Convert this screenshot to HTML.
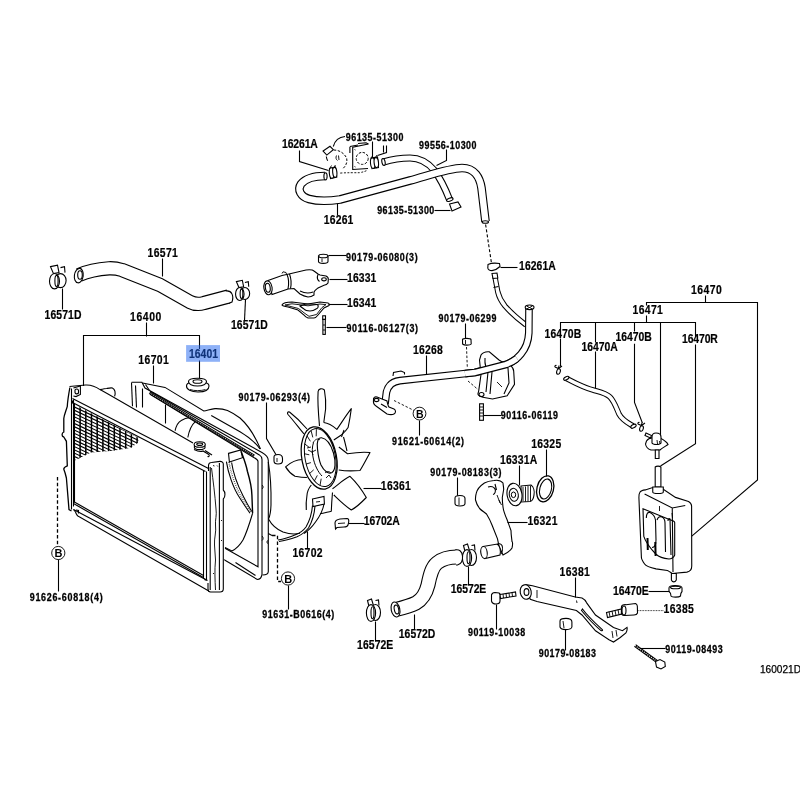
<!DOCTYPE html>
<html><head><meta charset="utf-8"><style>
html,body{margin:0;padding:0;background:#fff;width:800px;height:800px;overflow:hidden}
svg{display:block;will-change:transform}
text{font-family:"Liberation Sans",sans-serif;font-weight:bold;fill:#000}
text.b{font-size:12.4px;stroke:#000;stroke-width:0.2px}
text.s{font-size:10.6px;stroke:#000;stroke-width:0.3px}
text.r{font-weight:normal;font-size:10px;fill:#000;stroke:#000;stroke-width:0.25px}
.l{fill:none;stroke:#000;stroke-width:1.1}
.t{fill:none;stroke:#000;stroke-width:0.9}
.w{fill:#fff;stroke:#000;stroke-width:1.1}
.d{fill:none;stroke:#000;stroke-width:1.1;stroke-dasharray:3 2}
</style></head><body>
<svg width="800" height="800" viewBox="0 0 800 800">
<text transform="scale(0.84,1)" x="224.88" y="357.9" textLength="34.76" lengthAdjust="spacing" class="b">16401</text>
<text x="760" y="672.75" textLength="41" lengthAdjust="spacingAndGlyphs" class="r">160021D</text>
<text transform="scale(0.84,1)" x="335.83" y="148" textLength="42.50" lengthAdjust="spacing" class="b">16261A</text>
<text transform="scale(0.84,1)" x="385.36" y="223.9" textLength="35.36" lengthAdjust="spacing" class="b">16261</text>
<text transform="scale(0.84,1)" x="175.71" y="257" textLength="35.95" lengthAdjust="spacing" class="b">16571</text>
<text transform="scale(0.84,1)" x="53.10" y="318.9" textLength="43.81" lengthAdjust="spacing" class="b">16571D</text>
<text transform="scale(0.84,1)" x="274.88" y="329.4" textLength="43.93" lengthAdjust="spacing" class="b">16571D</text>
<text transform="scale(0.84,1)" x="154.88" y="321.5" textLength="37.14" lengthAdjust="spacing" class="b">16400</text>
<text transform="scale(0.84,1)" x="413.21" y="282.5" textLength="34.76" lengthAdjust="spacing" class="b">16331</text>
<text transform="scale(0.84,1)" x="413.21" y="307" textLength="34.76" lengthAdjust="spacing" class="b">16341</text>
<text transform="scale(0.84,1)" x="617.98" y="270" textLength="43.69" lengthAdjust="spacing" class="b">16261A</text>
<text transform="scale(0.84,1)" x="822.62" y="294" textLength="36.67" lengthAdjust="spacing" class="b">16470</text>
<text transform="scale(0.84,1)" x="753.10" y="314" textLength="35.95" lengthAdjust="spacing" class="b">16471</text>
<text transform="scale(0.84,1)" x="648.33" y="338.4" textLength="43.57" lengthAdjust="spacing" class="b">16470B</text>
<text transform="scale(0.84,1)" x="692.38" y="351" textLength="43.10" lengthAdjust="spacing" class="b">16470A</text>
<text transform="scale(0.84,1)" x="732.62" y="341" textLength="43.33" lengthAdjust="spacing" class="b">16470B</text>
<text transform="scale(0.84,1)" x="812.02" y="343" textLength="42.50" lengthAdjust="spacing" class="b">16470R</text>
<text transform="scale(0.84,1)" x="491.67" y="354" textLength="35.48" lengthAdjust="spacing" class="b">16268</text>
<text transform="scale(0.84,1)" x="164.64" y="364.2" textLength="36.31" lengthAdjust="spacing" class="b">16701</text>
<text transform="scale(0.84,1)" x="632.38" y="448.4" textLength="35.71" lengthAdjust="spacing" class="b">16325</text>
<text transform="scale(0.84,1)" x="595.24" y="464" textLength="44.29" lengthAdjust="spacing" class="b">16331A</text>
<text transform="scale(0.84,1)" x="453.39" y="490.5" textLength="35.65" lengthAdjust="spacing" class="b">16361</text>
<text transform="scale(0.84,1)" x="433.15" y="525" textLength="42.80" lengthAdjust="spacing" class="b">16702A</text>
<text transform="scale(0.84,1)" x="627.86" y="525" textLength="35.83" lengthAdjust="spacing" class="b">16321</text>
<text transform="scale(0.84,1)" x="348.10" y="556.75" textLength="35.95" lengthAdjust="spacing" class="b">16702</text>
<text transform="scale(0.84,1)" x="536.73" y="593" textLength="42.20" lengthAdjust="spacing" class="b">16572E</text>
<text transform="scale(0.84,1)" x="666.19" y="576" textLength="35.95" lengthAdjust="spacing" class="b">16381</text>
<text transform="scale(0.84,1)" x="729.76" y="595.5" textLength="42.62" lengthAdjust="spacing" class="b">16470E</text>
<text transform="scale(0.84,1)" x="790.00" y="613.5" textLength="35.95" lengthAdjust="spacing" class="b">16385</text>
<text transform="scale(0.84,1)" x="474.82" y="638" textLength="43.39" lengthAdjust="spacing" class="b">16572D</text>
<text transform="scale(0.84,1)" x="425.12" y="649.25" textLength="43.10" lengthAdjust="spacing" class="b">16572E</text>
<text transform="scale(0.84,1)" x="411.55" y="141" textLength="68.69" lengthAdjust="spacing" class="s">96135-51300</text>
<text transform="scale(0.84,1)" x="498.93" y="149" textLength="68.33" lengthAdjust="spacing" class="s">99556-10300</text>
<text transform="scale(0.84,1)" x="449.05" y="214" textLength="67.98" lengthAdjust="spacing" class="s">96135-51300</text>
<text transform="scale(0.84,1)" x="411.85" y="261" textLength="85.30" lengthAdjust="spacing" class="s">90179-06080(3)</text>
<text transform="scale(0.84,1)" x="412.44" y="332" textLength="85.30" lengthAdjust="spacing" class="s">90116-06127(3)</text>
<text transform="scale(0.84,1)" x="521.96" y="322" textLength="68.93" lengthAdjust="spacing" class="s">90179-06299</text>
<text transform="scale(0.84,1)" x="283.87" y="401" textLength="85.30" lengthAdjust="spacing" class="s">90179-06293(4)</text>
<text transform="scale(0.84,1)" x="596.07" y="419" textLength="68.21" lengthAdjust="spacing" class="s">90116-06119</text>
<text transform="scale(0.84,1)" x="466.79" y="445" textLength="85.60" lengthAdjust="spacing" class="s">91621-60614(2)</text>
<text transform="scale(0.84,1)" x="512.14" y="476" textLength="85.00" lengthAdjust="spacing" class="s">90179-08183(3)</text>
<text transform="scale(0.84,1)" x="35.36" y="601" textLength="86.79" lengthAdjust="spacing" class="s">91626-60818(4)</text>
<text transform="scale(0.84,1)" x="312.14" y="618" textLength="85.89" lengthAdjust="spacing" class="s">91631-B0616(4)</text>
<text transform="scale(0.84,1)" x="557.08" y="636" textLength="68.04" lengthAdjust="spacing" class="s">90119-10038</text>
<text transform="scale(0.84,1)" x="641.31" y="657" textLength="68.21" lengthAdjust="spacing" class="s">90179-08183</text>
<text transform="scale(0.84,1)" x="792.02" y="653" textLength="68.21" lengthAdjust="spacing" class="s">90119-08493</text>
<path d="M383.5,162 C390,160 400,158 410,158 C420,158 428,163 434,170 C440,178 445,188 449.5,199.5" fill="none" stroke="#000" stroke-width="7.2" stroke-linejoin="round" /><path d="M383.5,162 C390,160 400,158 410,158 C420,158 428,163 434,170 C440,178 445,188 449.5,199.5" fill="none" stroke="#fff" stroke-width="5.0" stroke-linejoin="round" />
<ellipse class="w" cx="383.5" cy="162" rx="1.6" ry="3.5" transform="rotate(-12 383.5 162)"/>
<ellipse class="w" cx="449.8" cy="199.6" rx="3.4" ry="1.5" transform="rotate(-20 449.8 199.6)"/>
<path d="M325,176 C316,176 306,178 301,184 C297,190 301,197 309,199 C318,201.5 330,201 340,199.5 L410,180.5 C430,175 450,168 462,168 C475,168 480,178 481.5,188 L485.5,221.5" fill="none" stroke="#000" stroke-width="8.6" stroke-linejoin="round" /><path d="M325,176 C316,176 306,178 301,184 C297,190 301,197 309,199 C318,201.5 330,201 340,199.5 L410,180.5 C430,175 450,168 462,168 C475,168 480,178 481.5,188 L485.5,221.5" fill="none" stroke="#fff" stroke-width="6.3999999999999995" stroke-linejoin="round" />
<ellipse class="w" cx="325.5" cy="176.3" rx="1.6" ry="3.6"/>
<ellipse class="w" cx="485.3" cy="222" rx="3.2" ry="1.3"/>
<path class="l" d="M446.5,149.5 L446.5,160.5 L436.5,165.5"/>
<path class="l" d="M337.5,215.5 L337.5,203.5"/>
<path class="l" d="M299.5,150.5 L299.5,161.5 L328.5,170.5"/>
<path class="w" d="M329.5,168.5 L335.5,167 L336.8,177 L330.5,178.5 Z"/><ellipse class="w" cx="331.6" cy="173" rx="2.3" ry="5.3" transform="rotate(-6 331.6 173)"/><ellipse class="w" cx="334.8" cy="172.4" rx="2.1" ry="5" transform="rotate(-6 334.8 172.4)"/><path class="t" d="M330,168 L331.5,165.5 M334,167 L335.5,165"/>
<path class="w" d="M371,158 L377.5,157 L378.5,167.5 L372,168.5 Z"/><ellipse class="w" cx="372.8" cy="163.2" rx="2.3" ry="5.2" transform="rotate(-6 372.8 163.2)"/><ellipse class="w" cx="376.3" cy="162.6" rx="2.2" ry="5" transform="rotate(-6 376.3 162.6)"/><path class="t" d="M371.5,158 L372.5,155.5 M375.5,157.5 L377,155"/>
<path class="l" d="M372.5,141.5 L372.5,157.5"/>
<path class="l" d="M368.4,144 L352.7,147.25 L352.7,169.5 L368,168.5"/>
<path class="l" d="M349.9,146.8 L349.9,153 M350,146.5 L358,145 M358,143.5 L366,142.8 L368.4,144"/>
<circle cx="362.2" cy="158.4" r="6" fill="none" stroke="#000" stroke-width="1" stroke-dasharray="2.5 1.5"/>
<path class="t" d="M354.5,149.5 L355.5,150 M354.5,166.5 L355.5,167"/>
<path fill="none" stroke="#000" stroke-width="1" stroke-dasharray="2.5 1.6" d="M333.7,150 C340,150 345,154 346.7,158.4 C347.5,162 346,166 343,168.5"/>
<path class="t" d="M336.5,155.5 C335.5,157.5 336,159.5 337.5,160.5 M338.5,155.5 L339,160"/>
<path class="l" d="M326.3,156.5 C326.5,158 327,159.5 327.7,160.7"/>
<path class="w" d="M323.1,151 L330,146.3 L333.3,149.6 L326.8,155.1 Z"/>
<path class="l" d="M345,136.5 C339,137 335,140 333.3,146.5"/>
<path class="t" stroke-dasharray="2 1.5" d="M340.2,173.1 C348,172.5 354,172.8 359.6,172.7 C363,172 365,171.5 367,170.4"/>
<path class="l" d="M383.5,145.5 L383.5,152.5"/>
<path class="l" d="M386.5,145.5 L386.5,152.5 L377.5,155.5"/>
<path class="w" d="M449.5,204 L458,202 L461,207 L452,211 Z"/>
<path class="l" d="M434.5,210.5 L450.5,210.5"/>
<path class="d" d="M485.6,224.5 L491.3,262"/>
<path d="M79,275 C88,271 99,269 109,268.3 C114,268.1 118,268.8 122,270 L160,285 L190,302 C194,304 199,304.5 204,303 L228.5,296.5" fill="none" stroke="#000" stroke-width="14.3" stroke-linejoin="round" /><path d="M79,275 C88,271 99,269 109,268.3 C114,268.1 118,268.8 122,270 L160,285 L190,302 C194,304 199,304.5 204,303 L228.5,296.5" fill="none" stroke="#fff" stroke-width="12.100000000000001" stroke-linejoin="round" />
<ellipse class="w" cx="78.8" cy="275.6" rx="4.4" ry="7.3" transform="rotate(8 78.8 275.6)"/>
<ellipse class="l" cx="80" cy="275" rx="2.3" ry="4.2"/>
<path class="w" d="M225.6,291 C232,290 234,296 232,302 L228,303.5"/>
<path class="l" d="M162.5,258.5 L162.5,276.5"/>
<path class="w" d="M50.5,266.6 L57.5,265.1 L59.0,272.6 L53.5,273.6 Z"/><path class="l" d="M60.5,267.6 L64.5,266.6 L65.0,272.6"/><ellipse class="w" cx="60.5" cy="280.6" rx="5.6" ry="7.0"/><ellipse class="w" cx="54.5" cy="281.20000000000005" rx="5.0" ry="7.7"/><ellipse class="l" cx="56.5" cy="280.90000000000003" rx="1.6" ry="5.5"/>
<path class="l" d="M62.5,288.5 L62.5,309.5"/>
<path class="w" d="M236.4,281.6 L242.35,280.325 L243.625,286.7 L238.95,287.55 Z"/><path class="l" d="M244.9,282.45 L248.3,281.6 L248.725,286.7"/><ellipse class="w" cx="244.9" cy="293.5" rx="4.76" ry="5.95"/><ellipse class="w" cx="239.8" cy="294.01" rx="4.25" ry="6.545"/><ellipse class="l" cx="241.5" cy="293.755" rx="1.36" ry="4.675"/>
<path class="l" d="M245.5,299.5 L244.5,320.5"/>
<path class="w" d="M318.5,256 L318.5,261.5 C318.5,264 328,264 328,261.5 L328,256 Z"/><ellipse class="w" cx="323.3" cy="256" rx="4.6" ry="1.8"/><path class="t" d="M322,258.5 L322,262"/>
<path class="l" d="M328.5,255.5 L346.5,255.5"/>
<path class="w" d="M268,280.5 L282,275.5 L289,274 L306,270 C310,269.5 313,270 314,271 L318,274 L320,275 L326,276 C328,277 328.5,278 328.3,279.5 L328,283 C327,284.5 325.5,285 324,285.2 L318,288 C316,289.5 314.5,290.5 314,292 L314,295 C312,296.5 310,297 308,297 C305,296.5 302.5,295.5 300,294 L294,288.5 L288,289 L272,294.5 Z"/>
<path class="l" d="M287,274.5 C288.5,278 289,284 288,289 M289.5,274 C291,278 291.5,284 290.5,288.7"/>
<path class="l" d="M318,274.5 C317,277 317.5,280 319.5,281.5 M300,291 C304,293 309,293.5 313,292"/>
<ellipse class="l" cx="324" cy="279.3" rx="2.3" ry="1.6"/>
<path class="t" d="M282,273.5 L283,271.8 L286,272.5 L286.5,274"/>
<ellipse class="w" cx="268" cy="287.8" rx="4.1" ry="7" transform="rotate(-8 268 287.8)"/>
<ellipse class="l" cx="267.8" cy="287.8" rx="2.4" ry="4.5" transform="rotate(-8 267.8 287.8)"/>
<path class="l" d="M329.5,279.5 L347.5,279.5"/>
<path class="w" d="M282,305 C283,303 287,302 292,302 L308,304 L320,302 L328,303 C329.5,303.5 329.5,305 329,305.5 L324,308 L318,315 C316.5,317 315.5,318 314,318 L308,318 C306,317.5 305,316.5 304,315 L298,310 L288,307 C285,306.5 282.5,306 282,305 Z"/>
<path class="t" d="M285,305 L292,303.8 L308,305.8 L320,304 L326,304.6 L322,307.5 L316.5,314.5 L309,316.3 L305,313.5 L298.5,308.5 Z"/>
<path class="l" d="M300,306 C303,305 305,304 308,304 C312,304 316,304 318,305 C318.5,307 317.5,308.5 316,309 C314,310.5 312,311 310,311 C307,311 305,310.3 304,309 C302.5,308 301,307 300,306 Z"/>
<path class="l" d="M328.5,304.5 L347.5,304.5"/>
<rect class="w" x="322.7" y="315.8" width="2.8" height="3.6"/><rect class="w" x="322.9" y="319.4" width="2.4" height="15"/>
<path class="t" d="M323,325 L325.2,325 M323,330 L325.2,330"/>
<path class="l" d="M326.5,327.5 L346.5,327.5"/>
<path class="l" d="M142.5,383 L165,387.4 L203.75,411 C207,410.5 211,409 215,408.6 C220,408.5 224,409 227.5,410.5 C232,412.5 236,415 240,418 C249,426 255,436 260.5,449"/>
<path class="l" d="M211.25,415.5 L240,431.75 C249,437 255,442 260,449"/>
<path class="l" d="M268.3,462 C270.5,475 271.3,490 271,505 C270.8,511 270,516 268.5,519 C272,525.5 277,529.5 283,532 C289,534 295,534.5 300,533.2"/>
<path class="l" d="M131.6,382.2 L141.9,382.2 L145,388 L262,452.5 C265.5,454.5 268.3,456.5 268.3,460.5 L268.3,571.6 C268.3,573.5 266,575 262.5,575"/>
<path class="l" d="M131.5,382.5 L132.5,406.5"/>
<path class="l" d="M135.5,385.5 L136.5,407.5"/>
<path class="l" d="M150,391.2 L259.4,454.9 C261,456 262,457.5 262,459.5 L262,574.4 C261.5,577.5 259.5,579.5 257.3,579.5 L223.75,559.5"/>
<path class="l" d="M150,394.3 L253.75,457.5 C256,458.5 258,459.5 258,461.5 L258,566.8 L225,548.25"/>
<path class="l" d="M142.5,388.5 L142.5,407.5"/>
<path class="l" d="M235.5,562.5 L255.5,575.5"/>
<path class="t" d="M262,485 C263.5,486 263.5,488 262,489 M262,536 C263.5,537 263.5,539.5 262,540.5 M268.3,540 C266.5,541 266.5,543 268.3,544"/>
<path d="M149.4,392.8 L254.25,455.8" stroke="#000" stroke-width="2.4" fill="none"/>
<path d="M149.4,392.8 L254.25,455.8" stroke="#fff" stroke-width="0.7" fill="none" stroke-dasharray="1.2 0.9"/>
<path class="l" d="M145.5,384.5 L149.5,390.5"/>
<path class="l" d="M165.5,404.5 L165.5,423.5"/>
<path class="l" d="M174.7,431.9 C176,426 178.5,422 181.25,420.6 C184,419 186.5,418 189,417.8"/>
<path class="l" d="M187.8,437.5 C189,431 191.5,425 195.3,421.6"/>
<path class="w" d="M228.5,453.4 L240.75,449.9 L242.5,457.75 L229.4,462 Z"/>
<path class="l" d="M226.4,461.6 C228,472 233,488 239.5,497.5 C243,503 247,509 250,513.25"/>
<path class="l" d="M231.6,462.5 C233,472 238,486 243,495.75 C246,502 249,507 251.75,511.5"/>
<path d="M229,462 C230.5,472 235.5,487 241.2,496.6 C244.5,502 248,508 250.8,512.4" stroke="#000" stroke-width="1.3" stroke-dasharray="0.6 1.4" fill="none"/>
<path d="M241.2,451.6 C243.5,458 246,464 247.4,471.25 C250,480 251.75,488 251.9,495 L252.6,513.25" stroke="#000" stroke-width="1.4" fill="none"/>
<path class="l" d="M243,540 C240,545 236,549 231.9,551 L225,547.5"/>
<path class="l" d="M252.6,513.25 C250,522 247,532 243,540"/>
<path class="d" style="stroke-width:1.3;stroke-dasharray:3.5 2.3" d="M272,535.5 L277.5,535.5 L277.5,581.5 L281,581.5"/>
<path class="l" d="M268.3,533.5 L272,535.5"/>
<path fill="#fff" d="M63,390 L69.5,386.5 L85,384.8 L100,389 L112,387.5 L115.5,392 L115,396.5 L193,441 L206,449 L212,455 L223.5,461.5 L224.5,593 L206,593 L75,517 L68,512 L63,470 Z"/>
<path class="l" style="stroke-width:1.3" d="M69.9,387.5 C68.5,395 67.5,402 67.3,406.3 C66,411 64,415 63.8,418.5 L63.8,432 C61.5,433 61.5,436.5 63.8,437 L66.4,441.3 L67.3,465.8 C65.5,466.5 63.5,467.5 63.8,469.3 C64.5,471 65.5,474 66.4,478 L69,509.6 L71.5,511"/>
<path class="l" d="M71.5,388.5 L71.5,509.5"/>
<path class="l" d="M73.5,399.5 L73.5,506.5"/>
<path class="l" d="M69.5,386.5 L85.4,385 C90,384.7 95,386 100,389.6 M100,389.6 C103,389 105,388.6 106.7,388.5 C109,388 111,387.5 112.4,388 C115,389.5 115.6,393 114.6,396.4"/>
<path class="l" d="M73.4,388 L80.4,386 L80.4,394.5 L76,396.6 L73.4,396 M75,390 C76,388.5 78,388.5 78.5,390.5 L78.5,393 C77,394.5 75.5,394 75,392.5 Z"/>
<path class="l" d="M100,389.6 L108,394 L193,443"/>
<path class="l" d="M205,450.5 L212,455"/>
<path class="l" d="M72.5,398.5 L208.5,468.5"/>
<path class="l" d="M72.5,402.5 L205.5,471.5"/>
<path class="l" d="M72.5,400.5 L72.5,403.5"/>
<ellipse class="w" cx="199.7" cy="447" rx="5.4" ry="2.6"/><ellipse class="w" cx="199.7" cy="444.5" rx="5.6" ry="2.8"/><ellipse class="l" cx="199.7" cy="444.2" rx="3" ry="1.2"/>
<path class="l" d="M194,449.5 C197,451 201,452 203,451 L208,454 C210,455 209.5,457 207.5,456.5"/>
<path class="l" d="M74.5,403.5 L74.5,502.5"/>
<path class="l" d="M73.5,501.5 L203.5,575.5"/>
<path class="l" d="M73.5,503.5 L203.5,577.5"/>
<path class="l" d="M73.5,509.5 L207.5,580.5"/>
<path class="l" d="M73.5,509.5 L75.5,512 C76.5,515 78,516.5 79.25,516.75 L208.8,591"/>
<path class="l" d="M76,510 L78.5,510.5 L78.5,513.5"/>
<path class="l" d="M206.5,471.5 L206.5,580.5"/>
<path class="l" d="M208.5,471 L208.5,466 C208.5,463.5 210,462.5 211.5,462.5 L220,461.4 C222,461.3 223.3,462.5 223.3,464 L223.3,490 C225.5,492 225.5,497 223.3,499 L223.3,589 C223.3,591 222,592 220,592 L210.5,592 C209,592 208,590.5 208,589 L208,583"/>
<path class="l" d="M210.2,467 L210.2,590"/>
<path class="l" d="M219.4,463 L219.4,590"/>
<path class="t" d="M211.5,468 C213,480 215,495 216,509 C217,515 215,520 215.5,525 C216.5,532 214,538 214.5,545 L215.5,560 C214.5,570 215,580 215.5,590"/>
<path class="t" d="M213,465.5 L214.5,466 M217,465.5 L217.8,466.5 M221,520 L222,521 M221,540 L222,541 M213,574 L214,573"/>
<path class="l" d="M203.5,470.5 L203.5,578.5"/>
<path class="l" d="M204.5,578.5 L205.5,580.5"/>
<clipPath id="hc"><path d="M74.4,404.5 L138.3,437.8 L138.3,442.5 L131.2,447.7 L113.3,450.8 L91,452.5 L74.4,460.8 Z"/></clipPath>
<g clip-path="url(#hc)"><path d="M80.1,395 L80.1,470 M85.8,395 L85.8,470 M91.5,395 L91.5,470 M97.2,395 L97.2,470 M102.9,395 L102.9,470 M108.6,395 L108.6,470 M114.3,395 L114.3,470 M120.0,395 L120.0,470 M125.7,395 L125.7,470 M131.4,395 L131.4,470 M137.1,395 L137.1,470" stroke="#000" stroke-width="1.5" fill="none"/><path d="M74,403.5 L140,434.5 M74,406.8 L140,437.8 M74,410.1 L140,441.1 M74,413.4 L140,444.4 M74,416.7 L140,447.7 M74,420.0 L140,451.0 M74,423.3 L140,454.3 M74,426.6 L140,457.6 M74,429.9 L140,460.9 M74,433.2 L140,464.2 M74,436.5 L140,467.5 M74,439.8 L140,470.8 M74,443.1 L140,474.1 M74,446.4 L140,477.4 M74,449.7 L140,480.7 M74,453.0 L140,484.0 M74,456.3 L140,487.3 M74,459.6 L140,490.6 M74,462.9 L140,493.9 M74,466.2 L140,497.2" stroke="#000" stroke-width="1.05" fill="none"/></g>
<path d="M319.5,426 C318.5,415 317.5,400 318.1,391.5 C318.5,388.5 322,388 324.4,390 C325.5,396 326,402 325.6,409 L323.8,422.5" fill="#fff" stroke="#000" stroke-width="1.1" stroke-linejoin="round"/>
<path d="M323.8,422.5 C329,423 333,426 336.9,429.4 C342,422 347,414 351.3,408.7 C350.5,415 349.5,421 348.1,427.5 C346,431 343,433.5 341.3,435 L333.8,440" fill="#fff" stroke="#000" stroke-width="1.1" stroke-linejoin="round"/>
<path d="M304,434 C299,428 293,420 288,414.5 C287,413 287.5,411.5 289.5,412 C296,417 302,423 307,429" fill="#fff" stroke="#000" stroke-width="1.1" stroke-linejoin="round"/>
<path d="M338.8,447 C342,449 345,452 347.5,453.8 C355,452.5 363,451.8 370,452.5 C367,458 363.5,465 360,470.5 C353,471 345,471 338.8,470" fill="#fff" stroke="#000" stroke-width="1.1" stroke-linejoin="round"/>
<path d="M302.5,459.5 C297,459.5 291,462 285.6,466.9 C288,471 292,474.5 295,476.3 C299,477 303,477.5 306.9,477.5" fill="#fff" stroke="#000" stroke-width="1.1" stroke-linejoin="round"/>
<path d="M332.5,488.8 C339,484 344,479 350,476.3 C356,482 362,490 366.3,497.5 C362,502 357,507 351.3,510 C345,506 339,500 333.8,495" fill="#fff" stroke="#000" stroke-width="1.1" stroke-linejoin="round"/>
<path d="M311.3,485 C308,489 307,493 306.9,496 C306,501 306,505 306.3,510 M320,513.8 C324,513 328,512 331.3,511.3 C331.5,505 332,498 332.5,492.5" fill="#fff" stroke="#000" stroke-width="1.1" stroke-linejoin="round"/>
<path class="l" d="M344,430 L341.5,437"/>
<path class="l" d="M343.5,437 C345,442 346,447 347,451"/>
<ellipse cx="319.2" cy="458" rx="17.3" ry="31.6" transform="rotate(-11 319.2 458)" fill="#fff" stroke="#000" stroke-width="1.25"/>
<ellipse cx="320.3" cy="457.6" rx="15.2" ry="29.4" transform="rotate(-11 320.3 457.6)" fill="none" stroke="#000" stroke-width="1"/>
<path d="M317.5,449 C316.5,442 318,437.5 321.5,437.8 C326.5,438.5 331,445 333.5,453 C336,462 335.5,470 332,472.5 C328.5,474.5 324,471 321,465 C319,460 318,454 317.5,449 Z" fill="none" stroke="#000" stroke-width="1.15"/>
<path d="M313.5,442.5 C312,447 312,452 313,457 C314.5,465 318,472 322,476" fill="none" stroke="#000" stroke-width="1"/>
<path d="M320.0,485.5 L321.2,478.7 M314.3,481.2 L317.3,475.4 M309.4,473.7 L313.7,469.8 M305.9,464.1 L310.9,462.6 M304.2,453.7 L309.3,454.8 M304.6,443.8 L309.1,447.3 M307.0,435.8 L310.4,441.3 M311.1,430.7 L312.8,437.4 M316.4,429.2 L316.2,436.3" stroke="#000" stroke-width="0.9" fill="none"/>
<path class="t" d="M307,448 L311,447 M308,450 L312,452 L316,450 M312,452 L313,455"/>
<path class="t" d="M325,473 C327,471 329,471 331,473 M326,478 L329,475 L331,478"/>
<path class="t" d="M313,443 C315,439 318,438 320,440"/>
<path class="l" d="M363.5,488.5 L381.5,488.5"/>
<path class="w" d="M312.5,499 L324,496.5 L324.4,504 L313,506.5 Z"/>
<path class="t" d="M316,502 L320,501.5"/>
<path class="l" d="M312.5,505.5 C312,512 310,520 306,527 C303,531 300,533 296,534.5 C290,537 284,539 278,540"/>
<path class="l" d="M315,506 C314.5,513 312.5,521 308.5,528 C305,532.5 301,535 297,536.8 C291,539 285,540.8 279,541.5"/>
<path class="l" d="M324,504 C323,510 320,516 315.5,522 C312,527 308,531 304,533.5"/>
<path class="l" d="M307.5,531.5 L307.5,548.5"/>
<path class="w" d="M335,523 C335,520.5 337,519.5 340,519 L347,518.5 C348.5,518.5 349,520 348.7,522 L348,525 C347.5,526.5 346,527 344,527 L337,527.5 L335.5,529 Z"/>
<path class="t" d="M338,523.5 L345,523"/>
<path class="l" d="M348.5,523.5 L364.5,523.5"/>
<path class="l" d="M266.5,402.5 L266.5,438.5 L276.5,455.5"/>
<path class="w" d="M274,457 C274,455 276,454.5 278,454.5 C281,454.5 282.5,456 282.5,458.5 L282.5,461 C282.5,463 280.5,464 278,464 C275.5,464 274,463 274,461 Z"/><path class="t" d="M277,458 L277,462"/>
<path class="w" d="M488,264.5 C491,263 496,263 499.5,263.5 L500,266.5 C498,268.5 496,270 492,270.6 C489.5,270.6 488,269.5 487.8,268 Z"/>
<path class="l" d="M500.5,267.5 L517.5,267.5"/>
<path d="M494.5,274.5 L497.8,292 C499,297 501,301 505,306 C511,313 518,319 526,325" fill="none" stroke="#000" stroke-width="5.4" stroke-linejoin="round" /><path d="M494.5,274.5 L497.8,292 C499,297 501,301 505,306 C511,313 518,319 526,325" fill="none" stroke="#fff" stroke-width="3.4000000000000004" stroke-linejoin="round" />
<path class="w" d="M492,273.5 L497,273 L497.8,278 L493,278.5 Z"/>
<path class="l" d="M493.5,287.5 L498.5,286.5"/>
<path d="M529,308 L528.8,333 C528.5,340 526,348 521,354 C517,359 512,362.5 506,364.5 L475,372.5 L400,380.6 C392,381.5 388,386 386.5,392 L385,404" fill="none" stroke="#000" stroke-width="7.6" stroke-linejoin="round" /><path d="M529,308 L528.8,333 C528.5,340 526,348 521,354 C517,359 512,362.5 506,364.5 L475,372.5 L400,380.6 C392,381.5 388,386 386.5,392 L385,404" fill="none" stroke="#fff" stroke-width="5.3999999999999995" stroke-linejoin="round" />
<ellipse class="w" cx="529.6" cy="307.3" rx="4.4" ry="2.3"/>
<path class="t" d="M526.5,306 L532.5,309 M532.5,306 L526.5,309"/>
<path class="w" d="M373.5,400 C373,397.5 375,396.5 377,397 L382,399 L387,401 C387.5,404 388,406 389,407 L394,409 C396,410 396,413 394,414 C392,415 389,414.6 387,414 L376,406 C373.5,404.5 373.2,402 373.5,400 Z"/>
<ellipse class="l" cx="376.5" cy="400" rx="2.4" ry="1.6"/>
<path class="l" d="M381,404 L387,407.5"/>
<path class="w" d="M393,376 L393.5,372.5 L401,371 L404.5,372.5 L404.5,374.5"/>
<path class="l" d="M426.5,355.5 L426.5,374.5"/>
<path class="t" stroke-dasharray="2.5 1.8" d="M394,400.5 L414,410.5"/>
<circle cx="419.5" cy="413.6" r="6.4" fill="#fff" stroke="#000" stroke-width="0.9"/>
<text x="416" y="417.6" style="font-size:10.5px;font-weight:bold">B</text>
<path class="l" d="M419.5,420.5 L419.5,435.5"/>
<path class="w" d="M481,355 C483,352 486,351.5 489.3,351.8 L499,360 L501.5,361.5 L510.4,365.6 C512.5,367 513.7,369 513.7,371.3 L514.5,384.3 L507.2,395.7 L492.5,399 L482.8,397.3 C480,396.5 478,395.5 477.9,394 L478.7,390.8 L481,374.5 L479.5,360 Z"/>
<path class="l" d="M485,358 C484.5,362 485.5,366 486,368"/>
<path class="l" d="M500.6,367.5 C503,366 506,366 508,368 L509,383 L504,394"/>
<path class="l" d="M488,372 L486,392 M492,372 L490,394"/>
<path class="t" d="M497,382 L502,387"/>
<ellipse class="l" cx="481.5" cy="394.5" rx="2.5" ry="2"/>
<path d="M517,358.5 C513,361.5 510,363 506,364.5 L475,372.5 L465,373.6" fill="none" stroke="#000" stroke-width="7.6" stroke-linejoin="round" /><path d="M517,358.5 C513,361.5 510,363 506,364.5 L475,372.5 L465,373.6" fill="none" stroke="#fff" stroke-width="5.3999999999999995" stroke-linejoin="round" />
<rect class="w" x="479.6" y="403.8" width="3.8" height="16.5"/>
<path class="t" d="M480,407 L483,407 M480,410 L483,410 M480,413 L483,413 M480,416 L483,416"/>
<path class="l" d="M483.5,415.5 L501.5,415.5"/>
<path class="w" d="M462.5,339.5 C463,338 470.5,338 471,339.5 L471.2,344 C470,345.5 464,345.5 462.6,344 Z"/><path class="t" d="M465.5,340 L465.5,344"/>
<path class="l" d="M465.5,323.5 L465.5,338.5"/>
<path class="t" stroke-dasharray="2.5 1.8" d="M466.5,347 L467.3,367 M468,381 L478,389.5"/>
<path class="l" d="M146.5,322.5 L146.5,336.5"/>
<path class="l" d="M83.5,386 L83.5,335.5 L199.5,335.5 L199.5,349"/>
<path class="l" d="M199.5,360.5 L199.5,378.5"/>
<path class="w" d="M186.5,386 C186.5,383.5 189,382.5 192,382.5 L203,382.5 C206.5,382.5 209,383.5 209,386 C209,389.5 205,392 198,392 C191,392 186.5,389.5 186.5,386 Z"/>
<path class="w" d="M188.5,381.5 C188.5,379.5 192,378.2 197.5,378.2 C203,378.2 206.5,379.5 206.5,381.5 C206.5,384 203,386 197.5,386 C192,386 188.5,384 188.5,381.5 Z"/>
<ellipse class="l" cx="197.5" cy="381.5" rx="4.5" ry="1.8"/>
<path class="t" d="M190,389.5 C194,391 201,391 205.5,389.5"/>
<path class="l" d="M153.5,365.5 L153.5,383.5"/>
<path class="d" style="stroke-width:1.3;stroke-dasharray:3.5 2.3" d="M57.5,477 L57.5,546"/>
<circle cx="58.3" cy="553" r="6.6" fill="#fff" stroke="#000" stroke-width="0.9"/>
<text x="54.6" y="557.2" style="font-size:11px;font-weight:bold">B</text>
<path class="l" d="M58.5,559.5 L58.5,591.5"/>
<circle cx="288" cy="578.5" r="6.6" fill="#fff" stroke="#000" stroke-width="0.9"/>
<text x="284.3" y="582.7" style="font-size:11px;font-weight:bold">B</text>
<path class="l" d="M288.5,585.5 L288.5,609.5"/>
<path class="w" d="M484.4,483 C480,486 477,489 476.2,493.4 C475.3,497 475.5,500 475.5,500 C476.5,504 478,506.5 479.6,508.5 C482,511 485,512.5 486.5,514 C489,518 490.5,521 492,525 L497.5,538.8 L499,546 L503,555 C507,553 510.5,551 512,548 C513,544 512.5,541.5 512,541.5 C511.5,537 511,534 511,530.5 L507,519.5 C505,515 503.5,511 503,507 C502.5,503 502.3,500 502.3,497.5 L503.7,489.3 C503.5,486 503,484 503,483 C501,480.5 497,480 494,480.5 C490,480.8 487,481.5 484.4,483 Z"/>
<path class="l" d="M488,487 C491,486 494,487 495,489 C496,491 495,494 493,494.5 M495,484 L496.5,490"/>
<path class="t" d="M497,495 L500,503 M499,500 L501.5,505"/>
<path class="w" d="M483,546.5 L497.5,544 C500,547 501,551 500,555 L485,558.5 Z"/>
<ellipse class="w" cx="484" cy="552.5" rx="3.2" ry="6" transform="rotate(-8 484 552.5)"/>
<path class="l" d="M497,545 C498.5,543 501,543.5 502,545.5 C503,548 502.5,552 501,554"/>
<path class="l" d="M507.5,522.5 L527.5,522.5"/>
<path class="w" d="M521,486 L531,485 C534,487 534.5,492 534,495 C533.5,499 532,501 530,501.5 L521,502 Z"/>
<path class="t" d="M523,487 L523,501 M525.5,486.5 L525.5,501.5 M528,486 L528,501.5 M530.5,486 L530.5,501"/>
<ellipse cx="514.5" cy="494.5" rx="7.4" ry="11.3" transform="rotate(-10 514.5 494.5)" fill="#fff" stroke="#000" stroke-width="1.1"/>
<ellipse cx="513.8" cy="494.8" rx="4.5" ry="6.5" transform="rotate(-10 513.8 494.8)" fill="none" stroke="#000" stroke-width="1"/>
<ellipse cx="513.5" cy="494.8" rx="2.2" ry="2.8" fill="none" stroke="#000" stroke-width="1"/>
<path class="l" d="M519.5,465.5 L519.5,485.5"/>
<ellipse cx="545.2" cy="488.8" rx="8.3" ry="13.2" transform="rotate(14 545.2 488.8)" fill="none" stroke="#000" stroke-width="1.3"/>
<ellipse cx="545.6" cy="489" rx="5.8" ry="10.2" transform="rotate(14 545.6 489)" fill="none" stroke="#000" stroke-width="1.1"/>
<path class="l" d="M546.5,449.5 L546.5,476.5"/>
<path class="l" d="M457.5,477.5 L457.5,496.5"/>
<path class="w" d="M455,498 C455,496 457,495.5 460,495.5 C463,495.5 465,496.5 465,498.5 L465,503.5 C465,505.5 463,506 460,506 C457,506 455,505.5 455,503.5 Z"/><path class="t" d="M459,497.5 L459,505"/>
<path class="w" d="M463.5,545.5 L467.5,544.0 L469.5,550.5 L465.0,551.5 Z"/><path class="l" d="M471.5,545.5 L474.5,545.0 L475.0,550.5"/><ellipse class="w" cx="471.5" cy="557.5" rx="5.0" ry="8.0"/><ellipse class="w" cx="467.0" cy="558.0" rx="4.6" ry="8.4"/><ellipse class="l" cx="468.5" cy="557.8" rx="1.5" ry="6.0"/>
<path class="l" d="M468.5,566.5 L468.5,585.5"/>
<path class="w" d="M367.5,600.5 L371.5,599.0 L373.5,605.5 L369.0,606.5 Z"/><path class="l" d="M375.5,600.5 L378.5,600.0 L379.0,605.5"/><ellipse class="w" cx="375.5" cy="612.5" rx="5.0" ry="8.0"/><ellipse class="w" cx="371.0" cy="613.0" rx="4.6" ry="8.4"/><ellipse class="l" cx="372.5" cy="612.8" rx="1.5" ry="6.0"/>
<path class="l" d="M375.5,621.5 L375.5,641.5"/>
<path d="M396,609.5 C402,608 410,606 416,603 C423,599 426,593 428,585 C430,575 432,567 437,563 C442,559 450,557 457,557" fill="none" stroke="#000" stroke-width="15" stroke-linejoin="round" /><path d="M396,609.5 C402,608 410,606 416,603 C423,599 426,593 428,585 C430,575 432,567 437,563 C442,559 450,557 457,557" fill="none" stroke="#fff" stroke-width="12.8" stroke-linejoin="round" />
<path class="w" d="M455,550 C459,549 462,551 462.5,556 C463,561 461,564 457.5,565 L456,565"/>
<ellipse class="w" cx="395.5" cy="609.5" rx="4.3" ry="7.6" transform="rotate(-12 395.5 609.5)"/>
<ellipse class="l" cx="396.5" cy="609.5" rx="2.2" ry="4.5" transform="rotate(-12 396.5 609.5)"/>
<path class="l" d="M414.5,614.5 L414.5,629.5"/>
<path class="w" d="M491.5,596 C491,594 493,592.5 495,592.5 L499,593 C500.5,594 500.5,596 500,597 L500,601 C500,603 498,604 496,604 C493.5,604 492,603 491.5,601 Z"/>
<path class="w" d="M500,594.5 L515.5,592 L516,596 L500.5,598.5 Z"/>
<path class="t" d="M503,594 L503.5,598 M506,593.5 L506.5,597.5 M509,593 L509.5,597 M512,592.5 L512.5,596.5"/>
<path class="l" d="M496.5,604.5 L496.5,629.5"/>
<path class="l" d="M705.5,295.5 L705.5,302.5"/>
<path class="l" d="M646.5,305.5 L646.5,302.5 L757.5,302.5 L757.5,480 L691.5,536.3"/>
<path class="l" d="M646.5,315.5 L646.5,322.5"/>
<path class="l" d="M560.5,329.5 L560.5,322.5 L695.5,322.5 L695.5,337"/>
<path class="l" d="M595.5,322.5 L595.5,342.5"/>
<path class="l" d="M634.5,322.5 L634.5,331.5"/>
<path class="l" d="M660.5,322.5 L660.5,443.5"/>
<path class="l" d="M695.5,344.5 L695.5,443.8 L660.5,466"/>
<path class="l" d="M634.5,343.8 L634.5,402.5 L642.4,423"/>
<path class="l" d="M560.5,338.5 L560.5,366.5"/>
<path class="l" d="M595.5,351.5 L595.5,389.5"/>
<ellipse class="l" cx="558.5" cy="371.5" rx="1.8" ry="2.8" transform="rotate(15 558.5 371.5)"/><path class="l" d="M555.0,367 L558.5,368.5 L562.0,366 M558.5,368.5 L559.0,365.5 M556.5,365.5 C555.5,365 554.5,366 555.0,367"/>
<ellipse class="l" cx="641.5" cy="428.5" rx="1.8" ry="2.8" transform="rotate(15 641.5 428.5)"/><path class="l" d="M638.0,424 L641.5,425.5 L645.0,423 M641.5,425.5 L642.0,422.5 M639.5,422.5 C638.5,422 637.5,423 638.0,424"/>
<path d="M566.5,378.5 C575,383 585,388 593,390 C600,392 606,393 610,397 C614,401 616,407 619,414 C622,420 628,423 633,426" fill="none" stroke="#000" stroke-width="5.6" stroke-linejoin="round" /><path d="M566.5,378.5 C575,383 585,388 593,390 C600,392 606,393 610,397 C614,401 616,407 619,414 C622,420 628,423 633,426" fill="none" stroke="#fff" stroke-width="3.5999999999999996" stroke-linejoin="round" />
<ellipse class="w" cx="566.3" cy="378.3" rx="1.5" ry="2.9" transform="rotate(60 566.3 378.3)"/>
<ellipse class="w" cx="633.5" cy="426.2" rx="1.6" ry="2.9" transform="rotate(60 633.5 426.2)"/>
<path class="w" d="M646.5,441 C649,437 656,437 660,438 C664,440 667,442 668,444.5 C666,446 662,448 660,450 L651,450 C648,449 646,447 645.5,444 Z"/>
<path class="w" d="M652,437 C652,434 654,433 656,433 C659,433 661,434.5 661,437 L661,443 C660,445 653,445 652,443 Z"/>
<path class="w" d="M646,433 L651.5,435.5 L650.5,438 L645,435.5 Z"/>
<path class="w" d="M655.3,450 L659,450 L659,458.5 L655.3,458.5 Z"/>
<path class="t" d="M657,440 L657.5,444 M659.5,441 L660,444"/>
<path class="w" d="M655.2,467 C656.5,465.8 659.5,465.8 660.9,467 L660.9,487 L655.2,487 Z"/>
<path class="w" d="M639.75,492.5 C641,490 643,490 646,489.8 L652.75,487.6 L663.3,489.2 L675.5,497.4 L688.5,501.4 C690.5,502.5 691.5,504 691.6,506 L691.75,566 C691.75,569 690,571.5 686.9,572.1 L672.25,573.5 C670,572 668,570.7 667.4,570.5 L656,568.9 C650,567.5 646,566 644.6,564 C642.5,561 641.5,559 641.4,557.5 L638.9,497.4 C638.9,495 639,493.5 639.75,492.5 Z"/>
<path class="w" d="M652.75,487 L663.3,487 L663.3,492 C663.3,494 652.75,494 652.75,492 Z"/>
<path class="l" d="M644.6,494.1 L672.25,508 L685.25,505.5 M672.25,508 L673,572"/>
<path class="l" d="M643,508.75 L670.6,520 C672.5,520.5 674.5,521 674.7,522.5 L674.7,555 C674,557.5 671,559 669,559 C664,558.5 659,557 656,554.25 C650,548 645.5,542 643.8,536.4 Z"/>
<path class="l" d="M646.3,518 C646.5,513 648,512 650,512.5 C653,514 655,517 655.5,520 L656,540 C656,545 654,547.5 652,547.5"/>
<path class="l" d="M657,520 C658,517 660,516 662,517 C664,518 665,520.5 665,523 L665.5,552"/>
<path class="l" d="M668,521 C668,519 669,518 670,519 L671,555"/>
<path class="t" d="M659.5,506 L659.5,511 M672,513 L672.5,518"/>
<path d="M647.5,538 L647.8,550 M655.3,542 L655.6,556" stroke="#000" stroke-width="2" fill="none"/>
<path class="w" d="M671.4,573.5 L676.3,573.5 L676.3,580 C675,582.5 672.5,582.5 671.4,580 Z"/>
<path class="w" d="M669,588 C669,586 671,585.5 675,585.5 C679.5,585.5 682,586 682,588 L682,591.5 C681,592.5 680.5,594 680.5,596 C679,597.5 672,597.5 671,596 C671,594 670.5,592.5 669,591.5 Z"/>
<ellipse class="l" cx="675.5" cy="587.5" rx="5" ry="1.3"/>
<path class="l" d="M648.5,591.5 L669.5,591.5"/>
<path class="w" d="M606.5,612.5 L621.5,609 L622.8,613.8 L607.5,617.5 Z"/>
<path class="t" d="M609,611.5 L610,616.8 M612,611 L613,616 M615,610.3 L616,615.5 M618,609.6 L619,614.8"/>
<path class="w" d="M621.4,607.5 C621,605 624,604.5 626,604.7 L635.5,603.5 C637,604 637.5,606 637.4,608 L637.5,613 C637,614.5 635.5,615 634,615 L624.5,615.5 C622,615.5 621,614 621.4,612 Z"/>
<ellipse class="l" cx="624" cy="610.5" rx="2" ry="4.5"/>
<path class="t" stroke-dasharray="0.8 0.8" d="M638.5,610.6 L663.5,610.6"/>
<path class="w" d="M525.75,584.6 L532.5,585.75 L575.25,597 L582,598 C584,599 585.5,600.5 586.5,602.6 L595.5,615 L613.5,627.4 L622.5,630.75 L627,627.4 C627.5,629.5 626.8,631.5 625.9,633 L620.25,637.5 L613.5,642 L609,639.75 L595.5,630.75 L582,615 L576.4,610.5 L537,601.5 L530.25,599.25 Z"/>
<ellipse class="w" cx="525.7" cy="592" rx="5.5" ry="7.3" transform="rotate(-12 525.7 592)"/>
<ellipse class="l" cx="526.5" cy="592" rx="2.4" ry="3.4"/>
<path class="l" d="M582.5,609 C586,614 594,622 602.3,629.6 C603,630.5 602,631 601,630.6 C593,624 586,616 581.5,610.5 Z"/>
<path class="t" d="M537,590 L537,598 M576.5,600.5 L577,603 M612,631 L613,638 M616,630 L617,636.5"/>
<path class="l" d="M575.5,577.5 L575.5,597.5"/>
<path class="w" d="M560,621 C560,619 563,618.4 566,618.4 C569.5,618.4 572,619.5 571.9,622 L571.9,627 C571.5,629 569,629.6 566,629.6 C563,629.6 560.5,628.6 560,627 Z"/><path class="t" d="M563,621 L564,628"/>
<path class="l" d="M565.5,629.5 L565.5,650.5"/>
<path d="M635,645.5 L657,661.5" stroke="#000" stroke-width="3.3" fill="none"/>
<path d="M635,645.5 L657,661.5" stroke="#fff" stroke-width="1.2" fill="none" stroke-dasharray="1 1.2"/>
<path class="w" d="M655.5,661.5 L660,659.5 L664.8,662 L665.3,666.5 L661,669 L656.5,667 Z"/>
<path class="l" d="M640.5,648.5 L665.5,648.5"/>
<rect x="186.1" y="345.1" width="33.9" height="16.7" fill="rgb(30,100,240)" fill-opacity="0.5"/>
</svg>
</body></html>
